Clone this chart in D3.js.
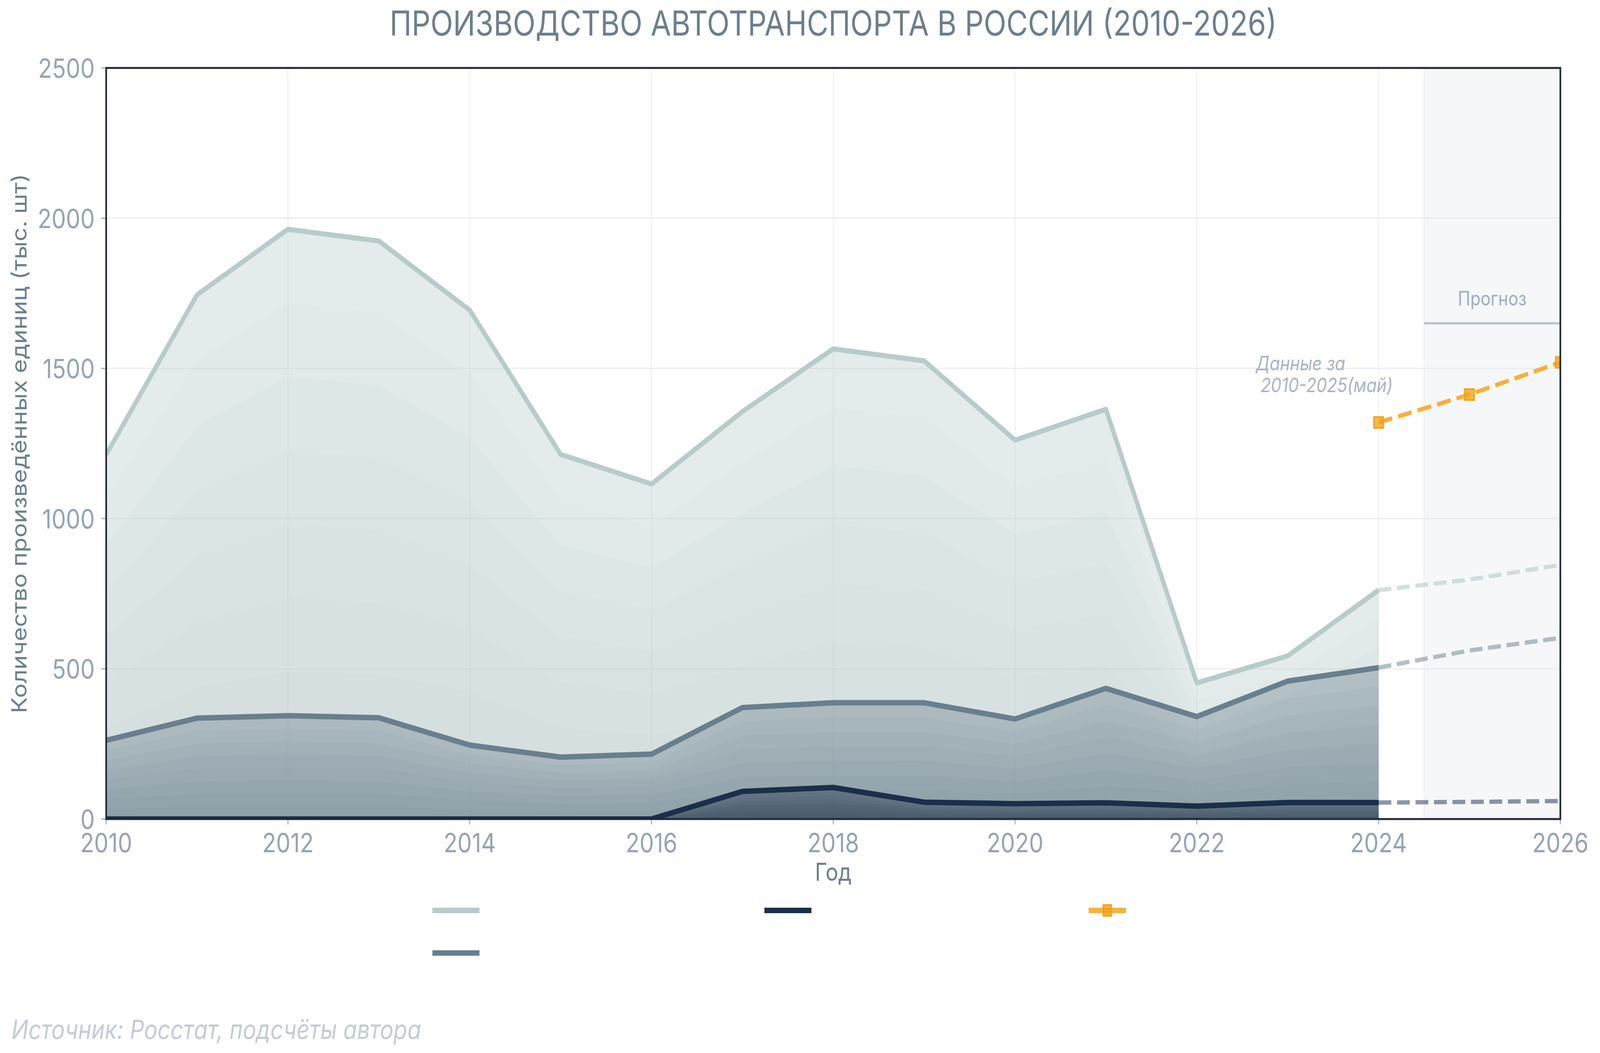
<!DOCTYPE html>
<html>
<head>
<meta charset="utf-8">
<script src="https://cdn.jsdelivr.net/npm/d3@7"></script>
<style>
	html, body { margin: 0; padding: 0; background: #ffffff; overflow: hidden; }
	svg { display: block; width: 100vw; height: 100vh; font-family: Inter, 'Noto Sans', sans-serif; }
</style>
</head>
<body>
<svg id="chart"></svg>
<script>
// data (тыс. шт)
const years = [2010, 2011, 2012, 2013, 2014, 2015, 2016, 2017, 2018, 2019, 2020, 2021, 2022, 2023, 2024];
const lightValues = [1213, 1745, 1963, 1924, 1694, 1214, 1115, 1356, 1565, 1525, 1261, 1364, 453, 543, 762];
const slateValues = [262, 336, 344, 337, 246, 206, 216, 371, 387, 387, 333, 435, 341, 459, 504];
const navyValues = [0, 0, 0, 0, 0, 0, 0, 92, 105, 56, 51, 54, 43, 55, 55];

const forecastYears = [2024, 2025, 2026];
const lightForecast = [762, 797, 846];
const slateForecast = [504, 561, 603];
const navyForecast = [55, 57, 60];
const totalForecast = [1320, 1413, 1520];

const xTicks = [2010, 2012, 2014, 2016, 2018, 2020, 2022, 2024, 2026];
const yTicks = [0, 500, 1000, 1500, 2000, 2500];

const Chart = {
	width: 4762,
	height: 2696,
	margin: { top: 174, right: 118, bottom: 599, left: 316 },
	layers: 8,

	draw: function() {
		const self = this;
		// the window may be narrower than the reference, so stretch the fixed layout to fill it
		let svg = d3.select('#chart')
			.attr('viewBox', '0 0 ' + self.width + ' ' + self.height)
			.attr('preserveAspectRatio', 'none');

		self.x = d3.scaleLinear()
			.domain([ 2010, 2026 ])
			.range([ self.margin.left, self.width - self.margin.right ]);
		self.y = d3.scaleLinear()
			.domain([ 0, 2500 ])
			.range([ self.height - self.margin.bottom, self.margin.top ]);

		svg.append('defs')
			.append('clipPath')
			.attr('id', 'plot-clip')
			.append('rect')
			.attr('x', self.x(2010))
			.attr('y', self.y(2500))
			.attr('width', self.x(2026) - self.x(2010))
			.attr('height', self.y(0) - self.y(2500));

		self.drawForecastZone(svg);
		self.drawGrid(svg);

		let plot = svg.append('g')
			.attr('clip-path', 'url(#plot-clip)');

		self.drawSeries(plot, lightValues, '#b8cbcb', 13);
		self.drawSeries(plot, slateValues, '#6a7f8d', 14);
		self.drawSeries(plot, navyValues, '#1b2f4b', 14);

		self.drawDashed(plot, lightForecast, '#b8cbcb', 0.6);
		self.drawDashed(plot, slateForecast, '#6a7f8d', 0.5);
		self.drawDashed(plot, navyForecast, '#1b2f4b', 0.5);
		self.drawTotal(plot);

		self.drawAxes(svg);
		self.drawTexts(svg);
		self.drawLegend(svg);
	},

	drawForecastZone: function(svg) {
		const self = this;

		svg.append('rect')
			.attr('x', self.x(2024.5))
			.attr('y', self.y(2500))
			.attr('width', self.x(2026) - self.x(2024.5))
			.attr('height', self.y(0) - self.y(2500))
			.style('fill', '#f5f7f9')
			.style('stroke', '#eceff2')
			.style('stroke-width', 3);

		svg.append('line')
			.attr('x1', self.x(2024.5))
			.attr('x2', self.x(2026))
			.attr('y1', self.y(1650))
			.attr('y2', self.y(1650))
			.style('stroke', '#b8c4d0')
			.style('stroke-width', 6);

		svg.append('text')
			.attr('x', self.x(2025.25))
			.attr('y', self.y(1650) - 46)
			.attr('text-anchor', 'middle')
			.style('font-size', '50px')
			.style('fill', '#a0aec0')
			.text('Прогноз');
	},

	drawGrid: function(svg) {
		const self = this;
		let grid = svg.append('g');

		grid.selectAll('.h-grid')
			.data(yTicks.slice(1, -1))
			.enter()
			.append('line')
			.attr('x1', self.x(2010))
			.attr('x2', self.x(2026))
			.attr('y1', d => self.y(d))
			.attr('y2', d => self.y(d))
			.style('stroke', '#e4e7ea')
			.style('stroke-opacity', 0.7)
			.style('stroke-width', 3);

		grid.selectAll('.v-grid')
			.data(xTicks.slice(1, -1))
			.enter()
			.append('line')
			.attr('x1', d => self.x(d))
			.attr('x2', d => self.x(d))
			.attr('y1', self.y(0))
			.attr('y2', self.y(2500))
			.style('stroke', '#e4e7ea')
			.style('stroke-opacity', 0.6)
			.style('stroke-width', 3);
	},

	drawSeries: function(g, values, color, lineWidth) {
		const self = this;
		let points = years.map((year, i) => ({ year: year, value: values[i] }));

		// stacked translucent copies at k/8 of the value give the stepped shading
		for (let k = self.layers; k >= 1; k--) {
			let area = d3.area()
				.x(d => self.x(d.year))
				.y0(self.y(0))
				.y1(d => self.y(d.value * k / self.layers));

			g.append('path')
				.datum(points)
				.attr('d', area)
				.style('fill', color)
				.style('fill-opacity', k == self.layers ? 0.38 : 0.06);
		}

		let line = d3.line()
			.x(d => self.x(d.year))
			.y(d => self.y(d.value));

		g.append('path')
			.datum(points)
			.attr('d', line)
			.style('fill', 'none')
			.style('stroke', color)
			.style('stroke-width', lineWidth)
			.style('stroke-linejoin', 'round');
	},

	drawDashed: function(g, values, color, opacity) {
		const self = this;
		let points = forecastYears.map((year, i) => ({ year: year, value: values[i] }));
		let line = d3.line()
			.x(d => self.x(d.year))
			.y(d => self.y(d.value));

		g.append('path')
			.datum(points)
			.attr('d', line)
			.style('fill', 'none')
			.style('stroke', color)
			.style('stroke-opacity', opacity)
			.style('stroke-width', 11)
			.style('stroke-dasharray', '38,17');
	},

	drawTotal: function(g) {
		const self = this;
		let points = forecastYears.map((year, i) => ({ year: year, value: totalForecast[i] }));
		let line = d3.line()
			.x(d => self.x(d.year))
			.y(d => self.y(d.value));
		let size = 28;

		g.append('path')
			.datum(points)
			.attr('d', line)
			.style('fill', 'none')
			.style('stroke', '#f5a012')
			.style('stroke-opacity', 0.82)
			.style('stroke-width', 11)
			.style('stroke-dasharray', '42,18');

		g.selectAll('.total-marker')
			.data(points)
			.enter()
			.append('rect')
			.attr('x', d => self.x(d.year) - size / 2)
			.attr('y', d => self.y(d.value) - size / 2)
			.attr('width', size)
			.attr('height', size)
			.style('fill', '#f5a012')
			.style('fill-opacity', 0.75)
			.style('stroke', '#f5a012')
			.style('stroke-width', 4);
	},

	drawAxes: function(svg) {
		const self = this;
		let axes = svg.append('g');

		axes.selectAll('.x-tick')
			.data(xTicks)
			.enter()
			.append('line')
			.attr('x1', d => self.x(d))
			.attr('x2', d => self.x(d))
			.attr('y1', self.y(0))
			.attr('y2', self.y(0) + 14)
			.style('stroke', '#a0aec0')
			.style('stroke-width', 3);

		axes.selectAll('.x-label')
			.data(xTicks)
			.enter()
			.append('text')
			.attr('x', d => self.x(d))
			.attr('y', self.y(0) + 85)
			.attr('text-anchor', 'middle')
			.style('font-size', '68px')
			.style('fill', '#94a3b8')
			.text(d => d);

		axes.selectAll('.y-tick')
			.data(yTicks)
			.enter()
			.append('line')
			.attr('x1', self.x(2010) - 15)
			.attr('x2', self.x(2010))
			.attr('y1', d => self.y(d))
			.attr('y2', d => self.y(d))
			.style('stroke', '#a0aec0')
			.style('stroke-width', 3);

		axes.selectAll('.y-label')
			.data(yTicks)
			.enter()
			.append('text')
			.attr('x', self.x(2010) - 34)
			.attr('y', d => self.y(d) + 25)
			.attr('text-anchor', 'end')
			.style('font-size', '68px')
			.style('fill', '#94a3b8')
			.text(d => d);

		axes.append('rect')
			.attr('x', self.x(2010))
			.attr('y', self.y(2500))
			.attr('width', self.x(2026) - self.x(2010))
			.attr('height', self.y(0) - self.y(2500))
			.style('fill', 'none')
			.style('stroke', '#1e293b')
			.style('stroke-width', 5);
	},

	drawTexts: function(svg) {
		const self = this;
		let plotMiddleX = (self.x(2010) + self.x(2026)) / 2;
		let plotMiddleY = (self.y(0) + self.y(2500)) / 2;

		svg.append('text')
			.attr('x', plotMiddleX)
			.attr('y', 91)
			.attr('text-anchor', 'middle')
			.style('font-size', '88px')
			.style('fill', '#6b7f8e')
			.text('ПРОИЗВОДСТВО АВТОТРАНСПОРТА В РОССИИ (2010-2026)');

		svg.append('text')
			.attr('x', plotMiddleX)
			.attr('y', 2255)
			.attr('text-anchor', 'middle')
			.style('font-size', '63px')
			.style('fill', '#6b7f8e')
			.text('Год');

		svg.append('text')
			.attr('transform', 'translate(79,' + plotMiddleY + ') rotate(-90)')
			.attr('text-anchor', 'middle')
			.style('font-size', '62px')
			.style('fill', '#6b7f8e')
			.text('Количество произведённых единиц (тыс. шт)');

		let note = svg.append('text')
			.attr('x', self.x(2022.65))
			.attr('y', self.y(1494))
			.style('font-size', '50px')
			.style('font-style', 'italic')
			.style('fill', '#a8b4c6');

		note.append('tspan')
			.attr('x', self.x(2022.65))
			.text('Данные за');
		note.append('tspan')
			.attr('x', self.x(2022.65))
			.attr('dy', 56)
			.style('white-space', 'pre')
			.text(' 2010-2025(май)');

		svg.append('text')
			.attr('x', 34)
			.attr('y', 2660)
			.style('font-size', '67px')
			.style('font-style', 'italic')
			.style('fill', '#c3ccd8')
			.text('Источник: Росстат, подсчёты автора');
	},

	drawLegend: function(svg) {
		let items = [
			{ x: 1287, y: 2331, length: 140, color: '#b8cbcb', marker: false },
			{ x: 2275, y: 2331, length: 140, color: '#1b2f4b', marker: false },
			{ x: 3240, y: 2331, length: 111, color: '#f5a012', marker: true },
			{ x: 1287, y: 2440, length: 140, color: '#6a7f8d', marker: false }
		];
		let legend = svg.append('g');

		for (let i = 0; i < items.length; i++) {
			let item = items[i];

			legend.append('line')
				.attr('x1', item.x)
				.attr('x2', item.x + item.length)
				.attr('y1', item.y)
				.attr('y2', item.y)
				.style('stroke', item.color)
				.style('stroke-opacity', item.marker ? 0.8 : 1)
				.style('stroke-width', 14);

			if (item.marker)
				legend.append('rect')
					.attr('x', item.x + item.length / 2 - 12)
					.attr('y', item.y - 14)
					.attr('width', 24)
					.attr('height', 28)
					.style('fill', '#f5a012')
					.style('fill-opacity', 0.8)
					.style('stroke', '#f5a012')
					.style('stroke-width', 4);
		}
	}
};

Chart.draw();
</script>
</body>
</html>
